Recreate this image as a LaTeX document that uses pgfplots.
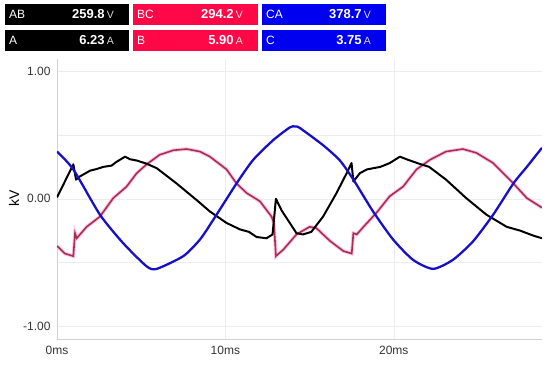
\documentclass[border=0pt]{standalone}
\usepackage{fontspec}
\setmainfont{Liberation Sans}
\usepackage{pgfplots}
\usepackage{pgfplotstable}
\pgfplotsset{compat=1.18}

\definecolor{bccol}{RGB}{255,8,72}
\definecolor{cacol}{RGB}{0,0,240}
\definecolor{bline}{RGB}{168,46,78}
\definecolor{bhalo}{RGB}{255,196,232}
\definecolor{cline}{RGB}{24,16,200}

% voltage traces, t in ms, v in kV
\pgfplotstableread{
t v
0 0.01
0.97 0.27
1.13 0.15
1.36 0.175
1.96 0.22
2.4 0.235
2.75 0.25
3.24 0.26
3.54 0.29
4.04 0.33
4.33 0.31
4.73 0.30
5.32 0.275
5.92 0.24
7.1 0.12
8.29 -0.01
9.08 -0.1
10.07 -0.19
10.86 -0.24
11.4 -0.26
11.85 -0.3
12.44 -0.31
12.8 -0.28
13.0 0.0
13.33 -0.09
14.22 -0.27
14.6 -0.28
15.1 -0.26
15.8 -0.14
16.6 0.045
17.2 0.2
17.49 0.28
17.6 0.135
17.98 0.2
18.4 0.23
19.2 0.25
19.76 0.28
20.36 0.33
20.75 0.31
21.5 0.275
22.1 0.25
23.1 0.15
24.3 0.005
25.5 -0.125
26.7 -0.22
27.5 -0.25
28.3 -0.29
28.8 -0.31
}\ab

\pgfplotstableread{
t v
0 -0.37
0.47 -0.43
0.97 -0.45
1.07 -0.27
1.17 -0.31
1.76 -0.22
2.55 -0.14
3.34 0.005
4.13 0.095
4.73 0.2
5.32 0.27
6.1 0.345
6.9 0.38
7.7 0.39
8.49 0.37
9.08 0.33
10.07 0.23
10.66 0.12
11.26 0.045
12.05 -0.02
12.74 -0.14
12.88 -0.19
13.0 -0.45
13.43 -0.4
14.22 -0.28
15.0 -0.22
15.4 -0.23
16.2 -0.33
17.0 -0.41
17.5 -0.43
17.6 -0.27
17.8 -0.28
18.2 -0.22
18.97 -0.11
19.76 0.02
20.55 0.095
21.35 0.23
22.14 0.305
23.1 0.37
24.1 0.39
24.9 0.36
25.9 0.28
27.1 0.12
27.9 0.005
28.8 -0.07
}\bc

\pgfplotstableread{
t v
0 0.37
0.97 0.23
2.55 -0.125
3.94 -0.35
5.32 -0.53
5.92 -0.55
7.5 -0.45
8.49 -0.32
9.28 -0.165
10.66 0.12
11.65 0.305
12.84 0.46
13.83 0.56
14.12 0.567
14.42 0.555
15.8 0.42
16.8 0.30
17.6 0.15
18.77 -0.1
19.96 -0.32
21.15 -0.48
22.33 -0.55
23.5 -0.48
24.7 -0.335
25.9 -0.125
27.1 0.12
27.9 0.25
28.8 0.40
}\ca

\newcommand\meter[7]{%
  \fill[#4] (#1,368-#3) rectangle (#2,368-#3-21);
  \node[anchor=west,text=white,inner sep=0,font=\fontsize{12}{12}\selectfont]
    at (#1+4,368-#3-10.5) {#5};
  \node[anchor=east,text=white,inner sep=0]
    at (#2-15,368-#3-10.5) {\fontsize{13}{12}\selectfont\bfseries #6\,\fontsize{10.5}{10}\selectfont\mdseries\color{white!85!#4}#7};
}

\begin{document}
\begin{tikzpicture}
\begin{scope}[x=1pt,y=1pt]
  \useasboundingbox (0,0) rectangle (550,368);
  \meter{5}{129}{4}{black}{AB}{259.8}{V}
  \meter{133}{258}{4}{bccol}{BC}{294.2}{V}
  \meter{262}{386}{4}{cacol}{CA}{378.7}{V}
  \meter{5}{129}{30}{black}{A}{6.23}{A}
  \meter{133}{258}{30}{bccol}{B}{5.90}{A}
  \meter{262}{386}{30}{cacol}{C}{3.75}{A}
  \node[rotate=90,font=\fontsize{14}{14}\selectfont] at (14,170) {kV};
\end{scope}
\begin{axis}[
    at={(57pt,29pt)}, anchor=south west,
    scale only axis, width=485pt, height=280.5pt,
    xmin=0, xmax=28.8, ymin=-1.1, ymax=1.1,
    xtick={0,10,20}, xticklabels={0ms,10ms,20ms},
    ytick={-1,0,1}, yticklabels={-1.00,0.00,1.00},
    minor ytick={-0.5,0.5},
    grid=both,
    major grid style={draw=black!7},
    minor grid style={draw=black!7},
    axis x line*=bottom, axis y line*=left,
    axis line style={draw=black!18, line width=0.8pt, -},
    major tick length=0, minor tick length=0,
    tick label style={font=\fontsize{12}{12}\selectfont, text=black!80},
    xticklabel style={yshift=-4pt},
    yticklabel style={xshift=-3pt},
  ]
  \addplot[bhalo, line width=3.6pt] table {\bc};
  \addplot[bline, line width=1.6pt] table {\bc};
  \addplot[black, line width=2pt, line join=round] table {\ab};
  \addplot[cline, line width=2.3pt, smooth, tension=0.4] table {\ca};
\end{axis}
\end{tikzpicture}
\end{document}
